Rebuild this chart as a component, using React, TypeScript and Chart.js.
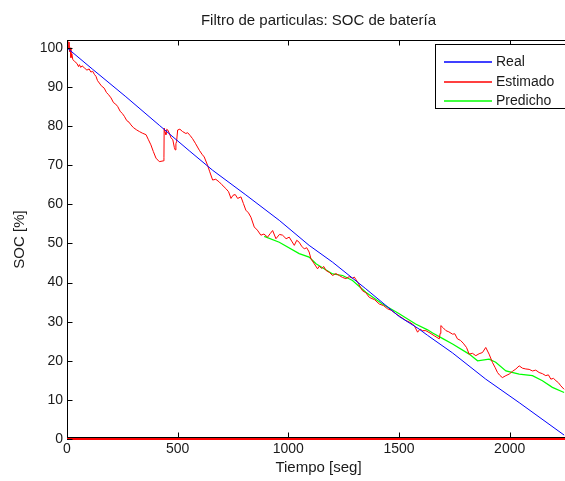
import React, { useEffect, useRef } from "react";
import { Chart, registerables } from "chart.js";

Chart.register(...registerables);

const TITLE = "Filtro de particulas: SOC de batería";
const X_LABEL = "Tiempo [seg]";
const Y_LABEL = "SOC [%]";
const X_MIN = 0;
const X_MAX = 2250;
const Y_MIN = 0;
const Y_MAX = 102;
const X_TICKS = [0, 500, 1000, 1500, 2000];
const Y_TICKS = [0, 10, 20, 30, 40, 50, 60, 70, 80, 90, 100];

const SERIES_NAMES = ["Real", "Estimado", "Predicho"];
const SERIES_COLORS = ["#0000ff", "#ff0000", "#00ff00"];

const realT = [0, 116, 266, 417, 552, 658, 808, 959, 1094, 1200, 1350, 1501, 1591, 1629, 1742, 1892, 2043, 2246];
const realV = [100, 94.5, 87.5, 80.2, 73.7, 68.7, 62.4, 55.9, 49.5, 45.2, 38.4, 31.3, 28.1, 26.5, 22, 15.3, 9.3, 1];

const estT = [0, 3, 6, 9, 12, 15, 18, 22, 26, 35, 45, 52, 56, 62, 68, 78, 90, 100, 108, 116, 124, 131, 138, 146, 155, 168, 178, 188, 199, 210, 220, 229, 240, 250, 259, 270, 280, 289, 300, 315, 327, 340, 357, 368, 379, 390, 402, 417, 435, 438, 439, 443, 447, 451, 455, 462, 470, 478, 485, 489, 492, 495, 500, 510, 522, 537, 545, 556, 567, 580, 598, 610, 620, 635, 645, 658, 672, 688, 700, 718, 730, 741, 750, 760, 771, 786, 797, 808, 820, 831, 846, 860, 876, 890, 906, 918, 929, 944, 960, 974, 990, 1004, 1015, 1027, 1038, 1049, 1060, 1072, 1083, 1094, 1102, 1117, 1132, 1140, 1150, 1160, 1170, 1185, 1200, 1215, 1230, 1245, 1260, 1275, 1290, 1298, 1305, 1313, 1335, 1350, 1366, 1390, 1411, 1430, 1448, 1465, 1486, 1505, 1531, 1550, 1569, 1584, 1595, 1606, 1621, 1640, 1659, 1682, 1686, 1689, 1700, 1712, 1725, 1742, 1752, 1764, 1778, 1790, 1805, 1817, 1832, 1847, 1862, 1877, 1892, 1907, 1922, 1935, 1945, 1955, 1967, 1983, 1998, 2013, 2028, 2043, 2058, 2073, 2088, 2103, 2118, 2133, 2148, 2163, 2175, 2186, 2198, 2209, 2220, 2231, 2246];
const estV = [101, 102, 100, 101.5, 99, 100, 97.5, 98.5, 97, 96.5, 96, 95.2, 95.7, 95, 95.4, 94.9, 94.3, 94.6, 93.8, 94, 93.2, 92.7, 91.6, 91, 90.3, 89.7, 88.6, 88, 87.2, 86, 85.6, 85, 83.8, 83.2, 82.5, 81.4, 81, 80.3, 79.6, 79, 78.6, 78.2, 77.8, 76.5, 75.2, 73.5, 71.8, 70.9, 71.1, 72, 79.5, 78.4, 77.8, 79.2, 79, 78.2, 77, 76.5, 74.5, 73.9, 75.5, 76, 79, 79.2, 78.6, 78.1, 78.3, 77.6, 76.8, 75.6, 73.8, 72.8, 72.1, 70, 68.3, 66.2, 66.4, 65.7, 65, 64, 63.2, 61.5, 62.3, 62.5, 61.5, 61.9, 60.2, 58.5, 57.8, 56.7, 54.2, 53.4, 52.1, 52.4, 51.6, 52.5, 53.3, 51.2, 52.3, 52.1, 51.2, 51.6, 50.6, 49.5, 50.8, 50.3, 49.3, 48.6, 48.9, 47.8, 46.1, 44.8, 43.5, 44.2, 43.6, 44.1, 43.1, 42.6, 41.8, 42.3, 41.8, 41.3, 41, 41.5, 41.1, 41.4, 40.8, 40.1, 37.9, 37.4, 36.2, 35.6, 34.5, 34.1, 33.3, 32.9, 32, 31.3, 30.3, 29.8, 29, 27.3, 28.1, 27.7, 27.7, 27.1, 26.4, 25.6, 27, 29, 28.4, 27.7, 27.4, 26.8, 26.9, 25.6, 25.2, 24.5, 23.4, 21.7, 21.9, 21.3, 21.8, 22.1, 23.4, 21.7, 19.6, 18.2, 17, 16.3, 15.7, 16.2, 16.6, 17.3, 17.9, 18.7, 18.1, 17.9, 17.8, 17.4, 17.6, 17, 16.7, 16.2, 16.4, 15.3, 15.5, 14.9, 14.4, 13.6, 12.7];

const predT = [891, 959, 1049, 1094, 1125, 1200, 1245, 1290, 1350, 1425, 1501, 1575, 1629, 1652, 1700, 1742, 1817, 1855, 1907, 1937, 1983, 2043, 2103, 2148, 2193, 2246];
const predV = [51.8, 50.3, 47.4, 46.5, 44.8, 42.2, 41.8, 40.5, 37.5, 34.5, 32, 29.4, 27.9, 27.1, 25.6, 24.3, 21.7, 20, 20.4, 19.6, 17.4, 16.6, 16.2, 14.9, 13.2, 11.9];

const zeroT = [0, 2250];
const zeroV = [0, 0];

const FONT = "'Liberation Sans', Arial, Helvetica, sans-serif";
const TEXT_COLOR = "#1a1a1a";

const toPoints = (t: number[], v: number[]) => t.map((x, i) => ({ x, y: v[i] }));

export default function App() {
  const ref = useRef<HTMLCanvasElement | null>(null);

  useEffect(() => {
    document.body.style.margin = "0";
    document.body.style.overflow = "hidden";
    const canvas = ref.current;
    if (!canvas) return;

    const decor = {
      id: "matlabDecor",
      afterDatasetsDraw(chart: any) {
        const ctx = chart.ctx;
        const a = chart.chartArea;
        const xs = chart.scales.x;
        const ys = chart.scales.y;
        ctx.save();
        ctx.strokeStyle = "#000";
        ctx.lineWidth = 1;
        ctx.beginPath();
        ctx.moveTo(a.left + 0.5, a.top + 0.5);
        ctx.lineTo(a.left + 0.5, a.bottom - 1);
        ctx.moveTo(a.left, a.top + 0.5);
        ctx.lineTo(a.right + 10, a.top + 0.5);
        ctx.moveTo(a.left, a.bottom - 1.5);
        ctx.lineTo(a.right + 10, a.bottom - 1.5);
        X_TICKS.forEach((t) => {
          const px = Math.round(xs.getPixelForValue(t)) + 0.5;
          ctx.moveTo(px, a.bottom - 1.5);
          ctx.lineTo(px, a.bottom - 6.5);
          ctx.moveTo(px, a.top + 0.5);
          ctx.lineTo(px, a.top + 5.5);
        });
        Y_TICKS.forEach((v) => {
          const py = Math.round(ys.getPixelForValue(v)) + 0.5;
          ctx.moveTo(a.left, py);
          ctx.lineTo(a.left + 5.5, py);
        });
        ctx.stroke();

        // legend
        const lx = 435.5, ly = 44.5, lw = 150, lh = 64;
        ctx.fillStyle = "#fff";
        ctx.fillRect(lx, ly, lw, lh);
        ctx.lineWidth = 1;
        ctx.strokeStyle = "#000";
        ctx.strokeRect(lx, ly, lw, lh);
        const rows = [62, 82, 101];
        ctx.font = "14px " + FONT;
        ctx.textBaseline = "middle";
        ctx.textAlign = "left";
        SERIES_NAMES.forEach((name, i) => {
          ctx.beginPath();
          ctx.strokeStyle = SERIES_COLORS[i];
          ctx.lineWidth = 1.5;
          ctx.moveTo(444, rows[i]);
          ctx.lineTo(492, rows[i]);
          ctx.stroke();
          ctx.fillStyle = TEXT_COLOR;
          ctx.fillText(name, 496, rows[i] + 0.5);
        });

        ctx.fillStyle = TEXT_COLOR;
        ctx.font = "15px " + FONT;
        ctx.textAlign = "center";
        ctx.textBaseline = "middle";
        const cx = (a.left + 570) / 2;
        ctx.fillText(TITLE, cx, 21);
        ctx.fillText(X_LABEL, cx, 468);
        ctx.save();
        ctx.translate(20, (a.top + a.bottom) / 2);
        ctx.rotate(-Math.PI / 2);
        ctx.fillText(Y_LABEL, 0, 0);
        ctx.restore();
        ctx.restore();
      },
    };

    const line = (label: string, data: any[], color: string, width = 1) => ({
      label,
      data,
      borderColor: color,
      borderWidth: width,
      pointRadius: 0,
      tension: 0,
    });

    const chart = new Chart(canvas, {
      type: "line",
      data: {
        datasets: [
          line(SERIES_NAMES[0], toPoints(realT, realV), SERIES_COLORS[0]),
          line(SERIES_NAMES[1], toPoints(estT, estV), SERIES_COLORS[1]),
          line(SERIES_NAMES[2], toPoints(predT, predV), SERIES_COLORS[2], 1.2),
          { ...line("zero", toPoints(zeroT, zeroV), SERIES_COLORS[1], 2), clip: false as any },
        ],
      },
      options: {
        animation: false,
        responsive: false,
        layout: { padding: { top: 40, left: 0, right: 0, bottom: 0 } },
        plugins: {
          legend: { display: false },
          title: { display: false },
          tooltip: { enabled: false },
        },
        scales: {
          x: {
            type: "linear",
            min: X_MIN,
            max: X_MAX,
            grid: { display: false, drawTicks: false },
            border: { display: false },
            afterBuildTicks: (s: any) => {
              s.ticks = X_TICKS.map((v) => ({ value: v }));
            },
            afterFit: (s: any) => {
              s.height = 42;
            },
            ticks: {
              padding: 2,
              color: TEXT_COLOR,
              font: { family: FONT, size: 14 },
              maxRotation: 0,
              autoSkip: false,
              callback: (v: any) => String(v),
            },
          },
          y: {
            type: "linear",
            min: Y_MIN,
            max: Y_MAX,
            grid: { display: false, drawTicks: false },
            border: { display: false },
            afterBuildTicks: (s: any) => {
              s.ticks = Y_TICKS.map((v) => ({ value: v }));
            },
            afterFit: (s: any) => {
              s.width = 67;
            },
            ticks: {
              padding: 4,
              color: TEXT_COLOR,
              font: { family: FONT, size: 14 },
              autoSkip: false,
              callback: (v: any) => String(v),
            },
          },
        },
      },
      plugins: [decor],
    });

    return () => chart.destroy();
  }, []);

  return (
    <div style={{ width: 565, height: 481, position: "relative", background: "#fff" }}>
      <canvas ref={ref} width={565} height={481} style={{ display: "block" }} />
    </div>
  );
}
